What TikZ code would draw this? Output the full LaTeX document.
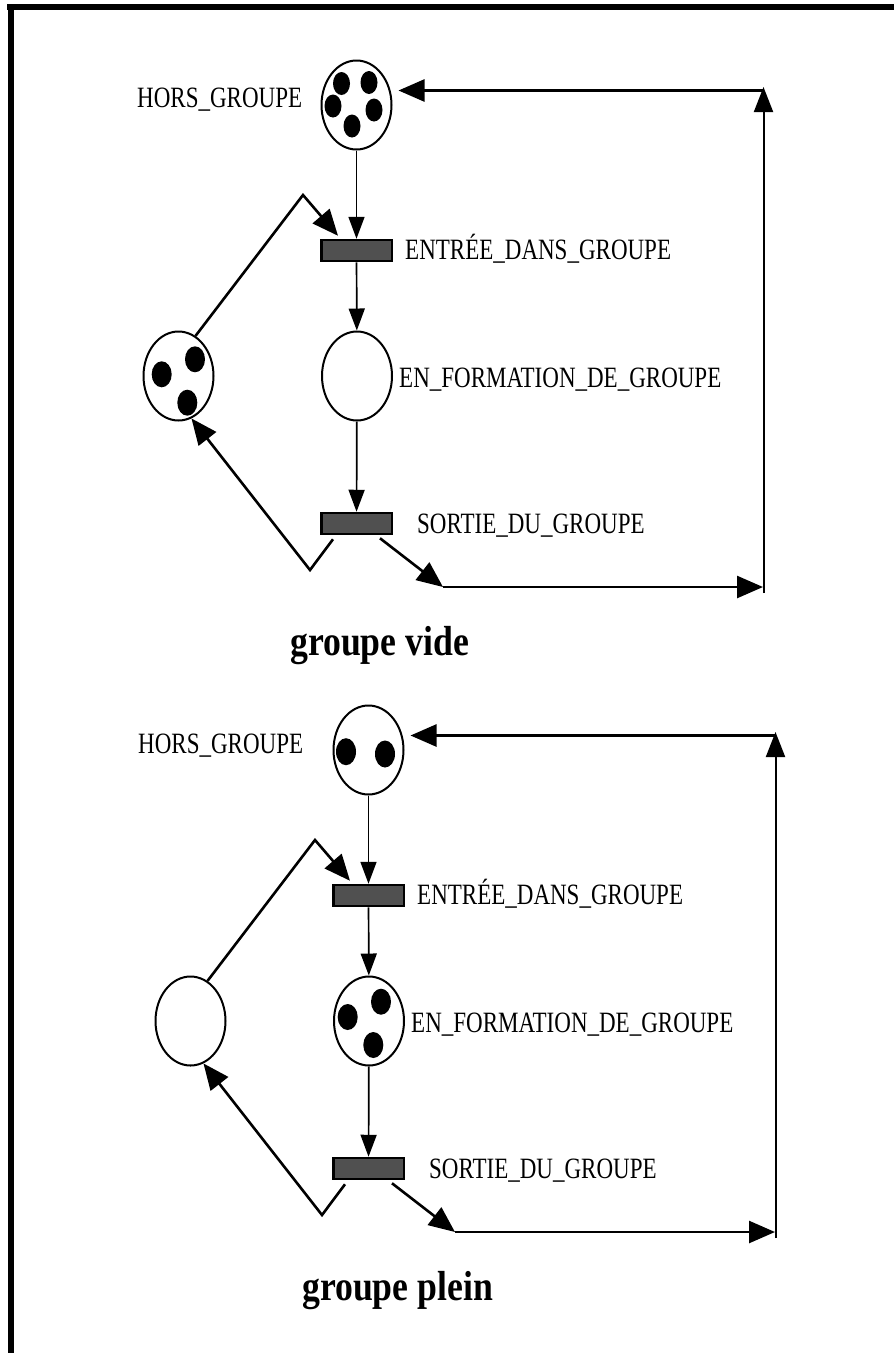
\documentclass[tikz,border=0pt]{standalone}
\usepackage{fontspec}
\setmainfont{Liberation Serif}
\newfontfamily\lblfont[FakeStretch=0.78]{Liberation Serif}
\newfontfamily\ttlfont[FakeStretch=0.85]{Liberation Serif}
\usetikzlibrary{shapes.geometric,arrows.meta,calc}
\definecolor{transfill}{RGB}{80,80,80}
\tikzset{
 place/.style={ellipse,draw,line width=2pt,minimum width=70pt,minimum height=89pt,inner sep=0pt},
 trans/.style={rectangle,draw,fill=transfill,line width=2.5pt,minimum width=70.5pt,minimum height=21pt,inner sep=0pt},
 arcthin/.style={line width=1.7pt,-{Triangle[length=22pt,width=16pt]}},
 arcthick/.style={line width=2.6pt,-{Triangle[length=26pt,width=22pt]}},
 arcvert/.style={line width=2pt,-{Triangle[length=25pt,width=19pt]}},
 lbl/.style={inner sep=0pt,anchor=base west,font=\lblfont\fontsize{29.5}{32}\selectfont},
 ttl/.style={inner sep=0pt,anchor=base west,font=\ttlfont\bfseries\fontsize{42}{46}\selectfont},
 token/.style={fill=black}
}
\newcommand\petrinet[1]{%
 \node[place] (h#1) at (356.5,105) {};
 \node[trans] (e#1) at (356.5,250.5) {};
 \node[place] (f#1) at (357,376) {};
 \node[trans] (s#1) at (356.5,523.5) {};
 \node[place] (l#1) at (178.5,376) {};
 \node[lbl] (el#1) at (405,259) {ENTRÉE\_DANS\_GROUPE};
 \node[lbl] (fl#1) at (399,387) {EN\_FORMATION\_DE\_GROUPE};
 \node[lbl] (sl#1) at (417,533) {SORTIE\_DU\_GROUPE};
 \draw[arcthin] (h#1) -- (e#1);
 \draw[arcthin] (e#1) -- (f#1);
 \draw[arcthin] (f#1) -- (s#1);
 \coordinate (pk#1) at (303,195);
 \draw[arcthick] (l#1.67) -- (pk#1) -- ($(e#1.north)+(-18.5,-3)$);
 \coordinate (v#1) at (310,570);
 \draw[arcthick] ($(s#1.south)+(-23.5,4)$) -- (v#1) -- (l#1.-73);
 \coordinate (b#1) at (443,587);
 \draw[arcthick] ($(s#1.south)+(23.5,3)$) -- (b#1);
 \coordinate (c#1) at (763,587);
 \draw[arcthick] (b#1) -- (c#1);
 \coordinate (vb#1) at (763.5,593);
 \coordinate (vt#1) at (763.5,87);
 \draw[arcvert] (vb#1) -- (vt#1);
 \coordinate (ht#1) at (764,90.5);
 \draw[arcthick] (ht#1) -- ($(h#1.east |- ht#1)+(6,0)$);
}
\begin{document}
\begin{tikzpicture}[x=1pt,y=-1pt]
\useasboundingbox (0,0) rectangle (894,1353);
\fill (7,4) rectangle (894,10);
\fill (8,4) rectangle (14,1353);
% upper net: groupe vide
\petrinet{1}
\node[lbl] (hl1) at (137,107.5) {HORS\_GROUPE};
\foreach \x/\y in {341.5/83.5,369/82.5,333/106,374/110,352/126}
  \fill[token] (\x,\y) ellipse [x radius=8.5,y radius=11.5];
\foreach \x/\y in {161.7/374.3,195/359.3,187.3/402.7}
  \fill[token] (\x,\y) ellipse [x radius=10,y radius=13];
\node[ttl] (t1) at (290,655) {groupe vide};
% lower net: groupe plein
\begin{scope}[shift={(12,645)}]
\petrinet{2}
\node[lbl] (hl2) at (126,108) {HORS\_GROUPE};
\foreach \x/\y in {334/106.7,373/109}
  \fill[token] (\x,\y) ellipse [x radius=10,y radius=13.5];
\foreach \x/\y in {335.7/372,369/356.7,361.3/400}
  \fill[token] (\x,\y) ellipse [x radius=10,y radius=13];
\node[ttl] (t2) at (290,655) {groupe plein};
\end{scope}
\end{tikzpicture}
\end{document}
